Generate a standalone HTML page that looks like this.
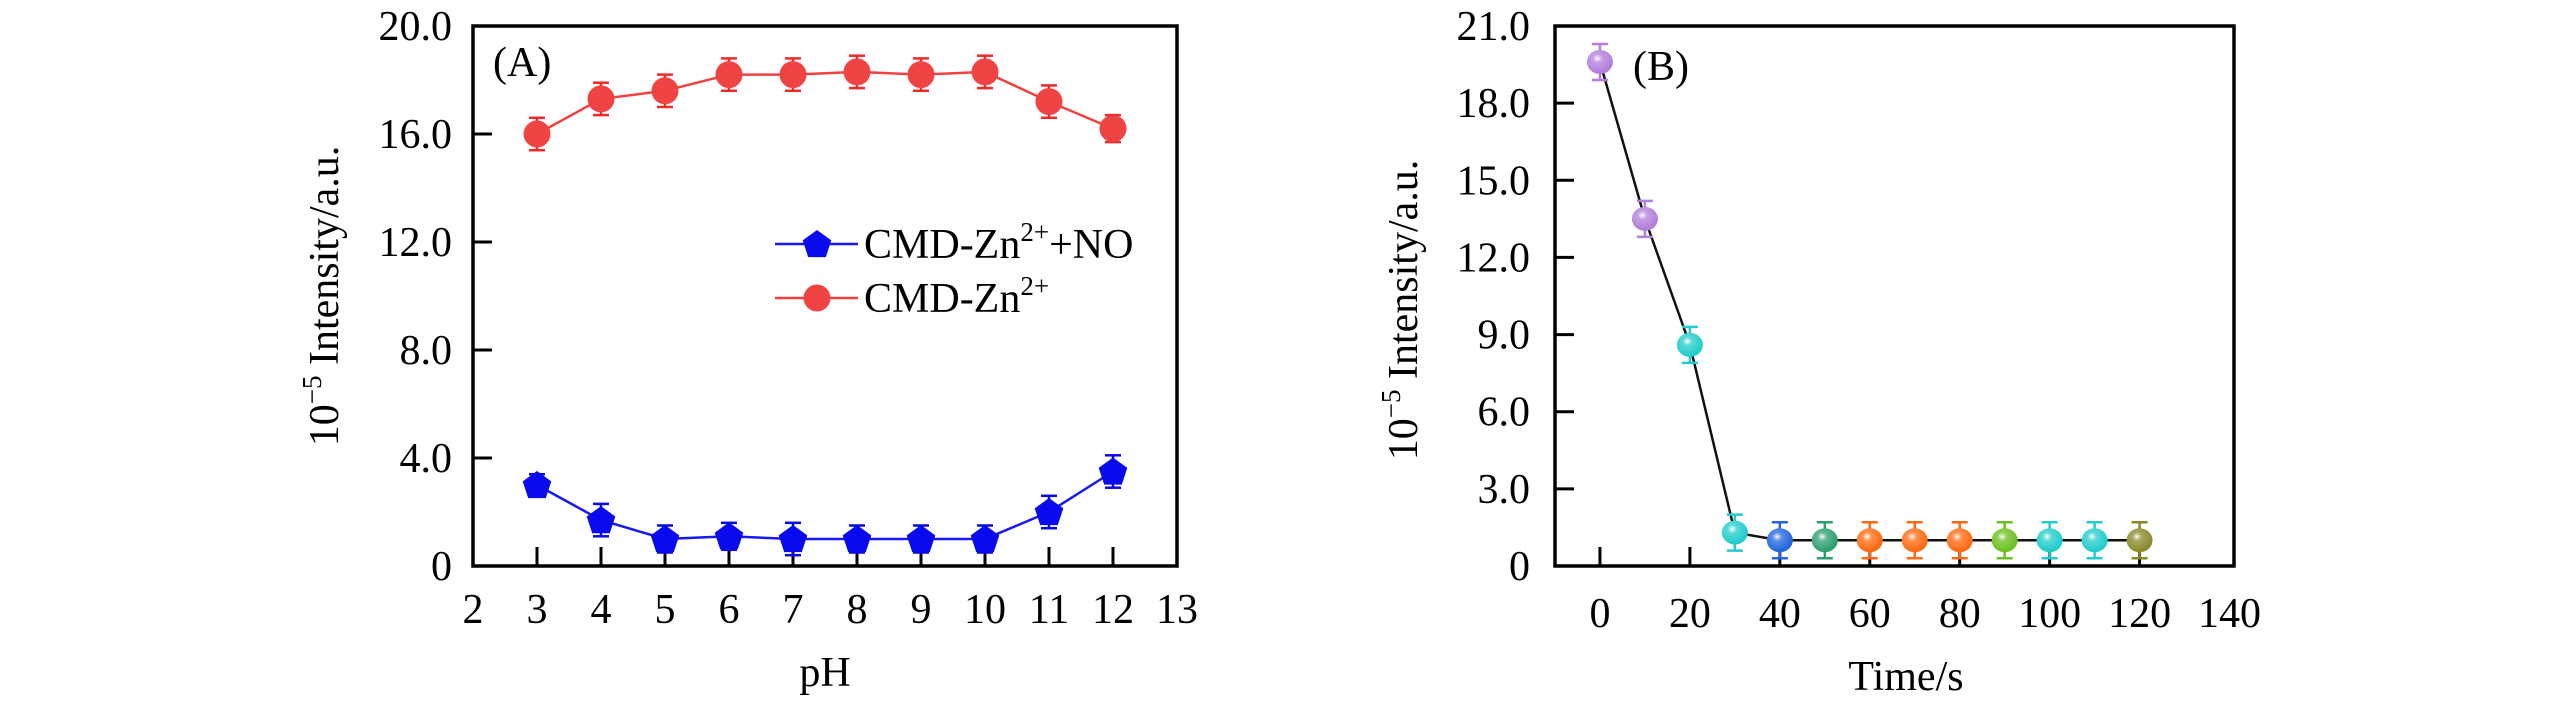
<!DOCTYPE html>
<html><head><meta charset="utf-8">
<style>
html,body{margin:0;padding:0;background:#fff;}
svg{display:block;font-family:"Liberation Serif",serif;}
</style></head>
<body>
<svg id="fig" width="2567" height="709" viewBox="0 0 2567 709">
<defs>
<radialGradient id="gloss" cx="0.4" cy="0.35" r="0.6">
<stop offset="0" stop-color="#fff" stop-opacity="0.95"/>
<stop offset="0.3" stop-color="#fff" stop-opacity="0.25"/>
<stop offset="1" stop-color="#fff" stop-opacity="0"/>
</radialGradient>
</defs>
<g id="chartA"></g>
<g id="chartB"></g>
</svg>
<script>
// ---- Chart A data ----
const phValues = [3,4,5,6,7,8,9,10,11,12];
const znValues = [16.0,17.3,17.6,18.2,18.2,18.3,18.2,18.3,17.2,16.2];
const znErrors = [0.6,0.6,0.6,0.6,0.6,0.6,0.6,0.6,0.6,0.5];
const noValues = [3.0,1.7,1.0,1.1,1.0,1.0,1.0,1.0,2.0,3.5];
const noErrors = [0.4,0.6,0.5,0.5,0.6,0.5,0.5,0.5,0.6,0.6];
const aXTicks = [2,3,4,5,6,7,8,9,10,11,12,13];
const aYTicks = [0,4,8,12,16,20];
const aYTickLabels = ["0","4.0","8.0","12.0","16.0","20.0"];
// ---- Chart B data ----
const timeValues = [0,10,20,30,40,50,60,70,80,90,100,110,120];
const intensityValues = [19.6,13.5,8.6,1.3,1.0,1.0,1.0,1.0,1.0,1.0,1.0,1.0,1.0];
const intensityErrors = [0.7,0.7,0.7,0.7,0.7,0.7,0.7,0.7,0.7,0.7,0.7,0.7,0.7];
const pointColors = ["#b27fdc","#b27fdc","#22cccc","#22cccc","#2266dd","#2f9e6e","#ff6a12","#ff6a12","#ff6a12","#6cc020","#22cccc","#22cccc","#8a8a2a"];
const bXTicks = [0,20,40,60,80,100,120,140];
const bYTicks = [0,3,6,9,12,15,18,21];
const bYTickLabels = ["0","3.0","6.0","9.0","12.0","15.0","18.0","21.0"];

const NS="http://www.w3.org/2000/svg";
function mk(parent,tag,attrs,text){const e=document.createElementNS(NS,tag);for(const k in attrs)e.setAttribute(k,attrs[k]);if(text!==undefined)e.textContent=text;parent.appendChild(e);return e;}

// ===== Chart A =====
const A=document.getElementById('chartA');
const aL=473,aR=1177,aT=26,aB=566;
const ax=v=>aL+(v-2)/(13-2)*(aR-aL);
const ay=v=>aB-(v-0)/20*(aB-aT);
function drawErr(g,x,y1,y2,col){
  const l=mk(g,'line',{x1:x,x2:x,y1:y1,y2:y2,stroke:col,'stroke-width':2.5});
  
  
  mk(g,'line',{x1:x-8,x2:x+8,y1:y1,y2:y1,stroke:col,'stroke-width':2.5});
  mk(g,'line',{x1:x-8,x2:x+8,y1:y2,y2:y2,stroke:col,'stroke-width':2.5});
}
function pentagon(cx,cy,r){let p=[];for(let i=0;i<5;i++){const a=-Math.PI/2+i*2*Math.PI/5;p.push((cx+r*Math.cos(a)).toFixed(1)+','+(cy+r*Math.sin(a)).toFixed(1));}return p.join(' ');}
phValues.forEach(v=>{const t=mk(A,'line',{x1:ax(v),x2:ax(v),y1:aB,y2:aB-19,stroke:'#000','stroke-width':3});});
aXTicks.forEach(v=>{const t=mk(A,'text',{x:ax(v),y:623,'font-size':42,'text-anchor':'middle'},String(v));});
aYTicks.forEach((v,i)=>{
  if(v>0&&v<20){const t=mk(A,'line',{x1:aL,x2:aL+19,y1:ay(v),y2:ay(v),stroke:'#000','stroke-width':3});}
  const l=mk(A,'text',{x:452,y:ay(v)+14,'font-size':42,'text-anchor':'end'},aYTickLabels[i]);
  
  
});
const gRed=mk(A,'g',{});
mk(gRed,'polyline',{points:phValues.map((v,i)=>ax(v)+','+ay(znValues[i])).join(' '),fill:'none',stroke:'#f04040','stroke-width':2.5});
phValues.forEach((v,i)=>{drawErr(gRed,ax(v),ay(znValues[i]+znErrors[i]),ay(znValues[i]-znErrors[i]),'#f02828');
  const c=mk(gRed,'circle',{cx:ax(v),cy:ay(znValues[i]),r:13.5,fill:'#f04444'});});
const gBlue=mk(A,'g',{});
mk(gBlue,'polyline',{points:phValues.map((v,i)=>ax(v)+','+ay(noValues[i])).join(' '),fill:'none',stroke:'#1818f0','stroke-width':2.5});
phValues.forEach((v,i)=>{drawErr(gBlue,ax(v),ay(noValues[i]+noErrors[i]),ay(noValues[i]-noErrors[i]),'#0808e8');
  const c=mk(gBlue,'polygon',{points:pentagon(ax(v),ay(noValues[i])+1,15),fill:'#0a0aee'});});
mk(A,'rect',{x:aL,y:aT,width:aR-aL,height:aB-aT,fill:'none',stroke:'#000','stroke-width':3.5});
mk(A,'text',{x:493,y:76,'font-size':42},'(A)');
const lg=mk(A,'g',{});
mk(lg,'line',{x1:775,x2:858,y1:244,y2:244,stroke:'#1818f0','stroke-width':2.5});
mk(lg,'polygon',{points:pentagon(817,245,15),fill:'#0a0aee'});
mk(lg,'text',{x:864,y:258,'font-size':42},'').innerHTML='CMD-Zn<tspan font-size="27" dy="-17">2+</tspan><tspan dy="17">+NO</tspan>';
mk(lg,'line',{x1:775,x2:858,y1:298,y2:298,stroke:'#f04040','stroke-width':2.5});
mk(lg,'circle',{cx:817,cy:298,r:13.5,fill:'#f04444'});
mk(lg,'text',{x:864,y:312,'font-size':42},'').innerHTML='CMD-Zn<tspan font-size="27" dy="-17">2+</tspan>';
mk(A,'text',{x:825,y:686,'font-size':42,'text-anchor':'middle'},'pH');
const ytA=mk(A,'text',{x:0,y:0,'font-size':42,'text-anchor':'middle',transform:'translate(338,296) rotate(-90)'});
ytA.innerHTML='10<tspan font-size="27" dy="-17">−5</tspan><tspan dy="17"> Intensity/a.u.</tspan>';


// ===== Chart B =====
const B=document.getElementById('chartB');
const bL=1555,bR=2234,bT=26,bB=566;
const bx=v=>bL+(v+10)/(151)*(bR-bL);
const by=v=>bB-v/21*(bB-bT);
bXTicks.forEach(v=>{
  if(v<=120){const t=mk(B,'line',{x1:bx(v),x2:bx(v),y1:bB,y2:bB-19,stroke:'#000','stroke-width':3});}
  const l=mk(B,'text',{x:bx(v),y:627,'font-size':42,'text-anchor':'middle'},String(v));
  
  
});
bYTicks.forEach((v,i)=>{
  if(v>0&&v<21){const t=mk(B,'line',{x1:bL,x2:bL+19,y1:by(v),y2:by(v),stroke:'#000','stroke-width':3});}
  const l=mk(B,'text',{x:1530,y:by(v)+14,'font-size':42,'text-anchor':'end'},bYTickLabels[i]);
  
  
});
const gB=mk(B,'g',{});
mk(gB,'polyline',{points:timeValues.map((v,i)=>bx(v)+','+by(intensityValues[i])).join(' '),fill:'none',stroke:'#111','stroke-width':2.5});
timeValues.forEach((v,i)=>{
  const col=pointColors[i];
  drawErr(gB,bx(v),by(intensityValues[i]+intensityErrors[i]),by(intensityValues[i]-intensityErrors[i]),col);
  const c=mk(gB,'ellipse',{cx:bx(v),cy:by(intensityValues[i]),rx:13,ry:12,fill:col});
  
  
  mk(gB,'ellipse',{cx:bx(v),cy:by(intensityValues[i]),rx:13,ry:12,fill:'url(#gloss)'});
});
mk(B,'rect',{x:bL,y:bT,width:bR-bL,height:bB-bT,fill:'none',stroke:'#000','stroke-width':3.5});
mk(B,'text',{x:1633,y:80,'font-size':42},'(B)');
mk(B,'text',{x:1906,y:690,'font-size':42,'text-anchor':'middle'},'Time/s');
const ytB=mk(B,'text',{x:0,y:0,'font-size':42,'text-anchor':'middle',transform:'translate(1417,310) rotate(-90)'});
ytB.innerHTML='10<tspan font-size="27" dy="-17">−5</tspan><tspan dy="17"> Intensity/a.u.</tspan>';

</script>
</body></html>
